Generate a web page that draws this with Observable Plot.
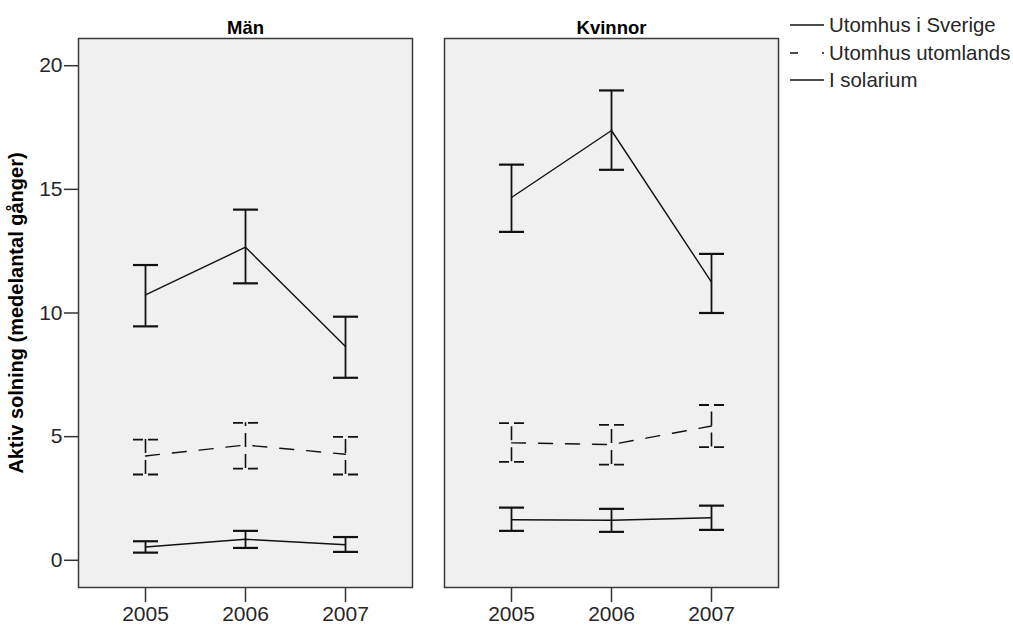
<!DOCTYPE html>
<html>
<head>
<meta charset="utf-8">
<script src="https://cdn.jsdelivr.net/npm/d3@7"></script>
<script src="https://cdn.jsdelivr.net/npm/@observablehq/plot@0.6"></script>
<style>
  body { margin: 0; background: #fff; font-family: Arial, "Liberation Sans", sans-serif; }
  #chart { position: relative; width: 1013px; height: 626px; }
  #chart svg { position: absolute; left: 0; top: 0; }
  g[aria-label="y-axis label"] text { font-weight: bold; font-size: 20px; fill: #000; }
  #legend { position: absolute; left: 790px; top: 12px; color: #262626; font-size: 20.4px; }
  #legend .row { display: flex; align-items: flex-start; height: 27.5px; line-height: 27.5px; white-space: nowrap; }
  #legend svg { position: static; flex: none; margin-right: 4px; }
</style>
</head>
<body>
<div id="chart"></div>
<script>
const sexes = ["Män", "Kvinnor"];
const years = [2005, 2006, 2007];
const seriesNames = ["Utomhus i Sverige", "Utomhus utomlands", "I solarium"];
const yTicks = [0, 5, 10, 15, 20];
const yLabel = "Aktiv solning (medelantal gånger)";

// Män: mean number of times with error-bar bounds, per year
const menSwedenMean = [10.73, 12.66, 8.65];
const menSwedenLow = [9.46, 11.20, 7.38];
const menSwedenHigh = [11.94, 14.18, 9.85];
const menAbroadMean = [4.22, 4.66, 4.29];
const menAbroadLow = [3.47, 3.71, 3.47];
const menAbroadHigh = [4.88, 5.56, 4.99];
const menSolariumMean = [0.54, 0.85, 0.63];
const menSolariumLow = [0.31, 0.50, 0.34];
const menSolariumHigh = [0.77, 1.19, 0.94];

// Kvinnor
const womenSwedenMean = [14.67, 17.38, 11.25];
const womenSwedenLow = [13.28, 15.79, 10.00];
const womenSwedenHigh = [16.00, 19.00, 12.39];
const womenAbroadMean = [4.75, 4.68, 5.43];
const womenAbroadLow = [3.98, 3.87, 4.58];
const womenAbroadHigh = [5.55, 5.48, 6.28];
const womenSolariumMean = [1.64, 1.62, 1.72];
const womenSolariumLow = [1.19, 1.15, 1.23];
const womenSolariumHigh = [2.13, 2.08, 2.21];

const groups = [
  {sex: sexes[0], series: seriesNames[0], mean: menSwedenMean, low: menSwedenLow, high: menSwedenHigh},
  {sex: sexes[0], series: seriesNames[1], mean: menAbroadMean, low: menAbroadLow, high: menAbroadHigh},
  {sex: sexes[0], series: seriesNames[2], mean: menSolariumMean, low: menSolariumLow, high: menSolariumHigh},
  {sex: sexes[1], series: seriesNames[0], mean: womenSwedenMean, low: womenSwedenLow, high: womenSwedenHigh},
  {sex: sexes[1], series: seriesNames[1], mean: womenAbroadMean, low: womenAbroadLow, high: womenAbroadHigh},
  {sex: sexes[1], series: seriesNames[2], mean: womenSolariumMean, low: womenSolariumLow, high: womenSolariumHigh}
];

const rows = groups.flatMap(g => years.map((year, i) => ({
  sex: g.sex, series: g.series, year, mean: g.mean[i], low: g.low[i], high: g.high[i]
})));

const dashedSeries = seriesNames[1];
const solidRows = rows.filter(d => d.series !== dashedSeries);
const dashedRows = rows.filter(d => d.series === dashedSeries);

// Horizontal whisker cap drawn as a custom symbol
const cap = {draw(ctx) { ctx.moveTo(-12.5, 0); ctx.lineTo(12.5, 0); }};

const ink = "#111";
const lineDash = "14,13";
const barDash = "14,7";
const capDash = "10,5";

const chart = Plot.plot({
  width: 1013,
  height: 626,
  marginLeft: 78,
  marginRight: 234,
  marginTop: 38,
  marginBottom: 39,
  style: {fontFamily: 'Arial, "Liberation Sans", sans-serif', fontSize: "21px", color: "#262626", background: "transparent"},
  fx: {domain: sexes, paddingInner: 0.0873, paddingOuter: 0, axis: null, label: null},
  x: {type: "point", domain: years, padding: 0.667},
  y: {domain: [-1.1, 21.1]},
  marks: [
    Plot.frame({fill: "#f0f0f0"}),
    Plot.axisX({ticks: years, tickFormat: d => String(d), tickSize: 15, tickPadding: 4, strokeWidth: 1.5, stroke: "#333", label: null}),
    Plot.axisY({ticks: yTicks, tickSize: 14, tickPadding: 2, strokeWidth: 1.5, stroke: "#333",
      label: yLabel, labelAnchor: "center", labelArrow: "none", labelOffset: 70}),
    Plot.text(sexes, {fx: d => d, text: d => d, frameAnchor: "top", lineAnchor: "bottom", dy: -5,
      fontWeight: "bold", fontSize: 18.5, fill: "#000"}),

    // error bars
    Plot.ruleX(solidRows, {fx: "sex", x: "year", y1: "low", y2: "high", stroke: ink, strokeWidth: 1.8}),
    Plot.ruleX(dashedRows, {fx: "sex", x: "year", y1: "low", y2: "high", stroke: ink, strokeWidth: 1.6, strokeDasharray: barDash}),
    Plot.dot(solidRows, {fx: "sex", x: "year", y: "low", symbol: cap, r: 1, fill: "none", stroke: ink, strokeWidth: 2.2}),
    Plot.dot(solidRows, {fx: "sex", x: "year", y: "high", symbol: cap, r: 1, fill: "none", stroke: ink, strokeWidth: 2.2}),
    Plot.dot(dashedRows, {fx: "sex", x: "year", y: "low", symbol: cap, r: 1, fill: "none", stroke: ink, strokeWidth: 1.8, strokeDasharray: capDash}),
    Plot.dot(dashedRows, {fx: "sex", x: "year", y: "high", symbol: cap, r: 1, fill: "none", stroke: ink, strokeWidth: 1.8, strokeDasharray: capDash}),

    // mean lines
    Plot.line(solidRows, {fx: "sex", x: "year", y: "mean", z: "series", stroke: ink, strokeWidth: 1.4}),
    Plot.line(dashedRows, {fx: "sex", x: "year", y: "mean", z: "series", stroke: ink, strokeWidth: 1.4, strokeDasharray: lineDash}),

    Plot.frame({stroke: "#3a3a3a", strokeWidth: 1.5})
  ]
});

const container = document.getElementById("chart");
container.appendChild(chart);

// Legend for the three series
const legendDash = ["none", "8,24,2,10", "none"];
const legend = document.createElement("div");
legend.id = "legend";
seriesNames.forEach((name, i) => {
  const row = document.createElement("div");
  row.className = "row";
  const sw = d3.create("svg").attr("width", 35).attr("height", 27.5);
  sw.append("line")
    .attr("x1", 0).attr("x2", 34).attr("y1", 13).attr("y2", 13)
    .attr("stroke", ink).attr("stroke-width", 1.6)
    .attr("stroke-dasharray", legendDash[i]);
  row.appendChild(sw.node());
  const label = document.createElement("span");
  label.textContent = name;
  row.appendChild(label);
  legend.appendChild(row);
});
container.appendChild(legend);
</script>
</body>
</html>
